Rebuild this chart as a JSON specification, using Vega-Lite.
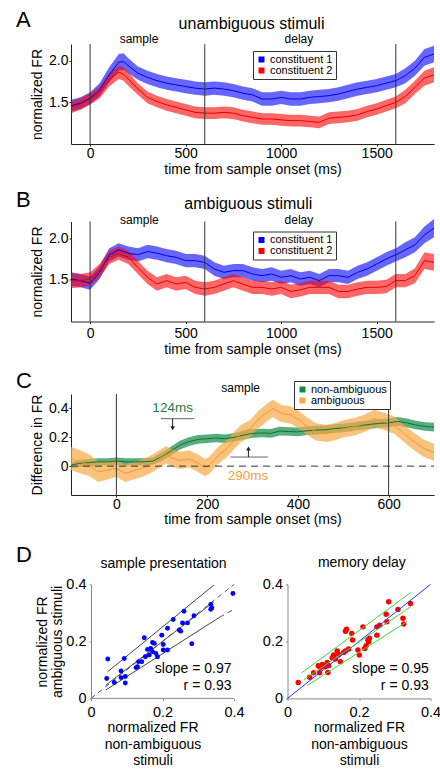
{
"$schema":"https://vega.github.io/schema/vega-lite/v6.json",
"padding":{"left":15,"top":8,"right":0,"bottom":0},
"config":{"font":"Liberation Sans","view":{"stroke":null},
 "axis":{"grid":false,"labelFlush":false,"labelFont":"Liberation Sans","titleFont":"Liberation Sans","titleFontWeight":"normal","labelColor":"#000","titleColor":"#000","domainColor":"#222","tickColor":"#222","tickSize":2,"labelFontSize":14,"titleFontSize":14,"labelOverlap":false},
 "legend":{"labelFont":"Liberation Sans","labelColor":"#000"},
 "text":{"font":"Liberation Sans","color":"#000"}},
"datasets":{
"A":[
{"t":-100,"s":"constituent 1","m":1.46,"e":0.07},{"t":-50,"s":"constituent 1","m":1.49,"e":0.07},{"t":0,"s":"constituent 1","m":1.55,"e":0.07},{"t":50,"s":"constituent 1","m":1.65,"e":0.08},{"t":100,"s":"constituent 1","m":1.83,"e":0.09},{"t":150,"s":"constituent 1","m":1.98,"e":0.1},{"t":175,"s":"constituent 1","m":1.99,"e":0.1},{"t":200,"s":"constituent 1","m":1.94,"e":0.09},{"t":250,"s":"constituent 1","m":1.85,"e":0.08},{"t":300,"s":"constituent 1","m":1.8,"e":0.08},{"t":350,"s":"constituent 1","m":1.76,"e":0.08},{"t":400,"s":"constituent 1","m":1.73,"e":0.08},{"t":450,"s":"constituent 1","m":1.71,"e":0.08},{"t":500,"s":"constituent 1","m":1.69,"e":0.08},{"t":550,"s":"constituent 1","m":1.67,"e":0.08},{"t":600,"s":"constituent 1","m":1.66,"e":0.08},{"t":650,"s":"constituent 1","m":1.67,"e":0.08},{"t":700,"s":"constituent 1","m":1.66,"e":0.08},{"t":750,"s":"constituent 1","m":1.64,"e":0.08},{"t":800,"s":"constituent 1","m":1.61,"e":0.08},{"t":850,"s":"constituent 1","m":1.59,"e":0.08},{"t":900,"s":"constituent 1","m":1.54,"e":0.08},{"t":950,"s":"constituent 1","m":1.54,"e":0.08},{"t":1000,"s":"constituent 1","m":1.56,"e":0.08},{"t":1050,"s":"constituent 1","m":1.54,"e":0.08},{"t":1100,"s":"constituent 1","m":1.54,"e":0.08},{"t":1150,"s":"constituent 1","m":1.56,"e":0.08},{"t":1200,"s":"constituent 1","m":1.57,"e":0.08},{"t":1250,"s":"constituent 1","m":1.58,"e":0.08},{"t":1300,"s":"constituent 1","m":1.6,"e":0.08},{"t":1350,"s":"constituent 1","m":1.63,"e":0.08},{"t":1400,"s":"constituent 1","m":1.66,"e":0.08},{"t":1450,"s":"constituent 1","m":1.68,"e":0.08},{"t":1500,"s":"constituent 1","m":1.7,"e":0.08},{"t":1550,"s":"constituent 1","m":1.73,"e":0.08},{"t":1600,"s":"constituent 1","m":1.76,"e":0.08},{"t":1650,"s":"constituent 1","m":1.82,"e":0.09},{"t":1700,"s":"constituent 1","m":1.91,"e":0.09},{"t":1750,"s":"constituent 1","m":2.04,"e":0.1},{"t":1800,"s":"constituent 1","m":2.08,"e":0.1},
{"t":-100,"s":"constituent 2","m":1.44,"e":0.07},{"t":-50,"s":"constituent 2","m":1.48,"e":0.07},{"t":0,"s":"constituent 2","m":1.54,"e":0.07},{"t":50,"s":"constituent 2","m":1.62,"e":0.07},{"t":100,"s":"constituent 2","m":1.77,"e":0.08},{"t":150,"s":"constituent 2","m":1.86,"e":0.08},{"t":175,"s":"constituent 2","m":1.84,"e":0.08},{"t":200,"s":"constituent 2","m":1.78,"e":0.08},{"t":250,"s":"constituent 2","m":1.66,"e":0.07},{"t":300,"s":"constituent 2","m":1.56,"e":0.07},{"t":350,"s":"constituent 2","m":1.51,"e":0.07},{"t":400,"s":"constituent 2","m":1.47,"e":0.07},{"t":450,"s":"constituent 2","m":1.44,"e":0.07},{"t":500,"s":"constituent 2","m":1.41,"e":0.07},{"t":550,"s":"constituent 2","m":1.38,"e":0.07},{"t":600,"s":"constituent 2","m":1.37,"e":0.07},{"t":650,"s":"constituent 2","m":1.37,"e":0.07},{"t":700,"s":"constituent 2","m":1.38,"e":0.07},{"t":750,"s":"constituent 2","m":1.37,"e":0.07},{"t":800,"s":"constituent 2","m":1.34,"e":0.07},{"t":850,"s":"constituent 2","m":1.32,"e":0.07},{"t":900,"s":"constituent 2","m":1.3,"e":0.07},{"t":950,"s":"constituent 2","m":1.3,"e":0.07},{"t":1000,"s":"constituent 2","m":1.29,"e":0.07},{"t":1050,"s":"constituent 2","m":1.28,"e":0.07},{"t":1100,"s":"constituent 2","m":1.28,"e":0.07},{"t":1150,"s":"constituent 2","m":1.27,"e":0.07},{"t":1200,"s":"constituent 2","m":1.26,"e":0.07},{"t":1250,"s":"constituent 2","m":1.31,"e":0.07},{"t":1300,"s":"constituent 2","m":1.32,"e":0.07},{"t":1350,"s":"constituent 2","m":1.33,"e":0.07},{"t":1400,"s":"constituent 2","m":1.35,"e":0.07},{"t":1450,"s":"constituent 2","m":1.39,"e":0.07},{"t":1500,"s":"constituent 2","m":1.42,"e":0.07},{"t":1550,"s":"constituent 2","m":1.46,"e":0.07},{"t":1600,"s":"constituent 2","m":1.5,"e":0.07},{"t":1650,"s":"constituent 2","m":1.57,"e":0.08},{"t":1700,"s":"constituent 2","m":1.68,"e":0.08},{"t":1750,"s":"constituent 2","m":1.79,"e":0.09},{"t":1800,"s":"constituent 2","m":1.83,"e":0.09}
],
"B":[
{"t":-100,"s":"constituent 1","m":1.51,"e":0.08},{"t":-50,"s":"constituent 1","m":1.49,"e":0.08},{"t":0,"s":"constituent 1","m":1.46,"e":0.08},{"t":50,"s":"constituent 1","m":1.59,"e":0.08},{"t":100,"s":"constituent 1","m":1.8,"e":0.08},{"t":150,"s":"constituent 1","m":1.86,"e":0.08},{"t":200,"s":"constituent 1","m":1.82,"e":0.08},{"t":250,"s":"constituent 1","m":1.8,"e":0.08},{"t":300,"s":"constituent 1","m":1.84,"e":0.08},{"t":350,"s":"constituent 1","m":1.82,"e":0.08},{"t":400,"s":"constituent 1","m":1.79,"e":0.08},{"t":450,"s":"constituent 1","m":1.77,"e":0.08},{"t":500,"s":"constituent 1","m":1.73,"e":0.08},{"t":550,"s":"constituent 1","m":1.73,"e":0.08},{"t":600,"s":"constituent 1","m":1.71,"e":0.08},{"t":650,"s":"constituent 1","m":1.63,"e":0.08},{"t":700,"s":"constituent 1","m":1.59,"e":0.08},{"t":750,"s":"constituent 1","m":1.61,"e":0.08},{"t":800,"s":"constituent 1","m":1.61,"e":0.08},{"t":850,"s":"constituent 1","m":1.57,"e":0.08},{"t":900,"s":"constituent 1","m":1.55,"e":0.08},{"t":950,"s":"constituent 1","m":1.57,"e":0.08},{"t":1000,"s":"constituent 1","m":1.53,"e":0.08},{"t":1050,"s":"constituent 1","m":1.55,"e":0.08},{"t":1100,"s":"constituent 1","m":1.51,"e":0.08},{"t":1150,"s":"constituent 1","m":1.53,"e":0.08},{"t":1200,"s":"constituent 1","m":1.49,"e":0.08},{"t":1250,"s":"constituent 1","m":1.55,"e":0.08},{"t":1300,"s":"constituent 1","m":1.55,"e":0.08},{"t":1350,"s":"constituent 1","m":1.53,"e":0.08},{"t":1400,"s":"constituent 1","m":1.59,"e":0.08},{"t":1450,"s":"constituent 1","m":1.63,"e":0.08},{"t":1500,"s":"constituent 1","m":1.69,"e":0.08},{"t":1550,"s":"constituent 1","m":1.75,"e":0.08},{"t":1600,"s":"constituent 1","m":1.8,"e":0.08},{"t":1650,"s":"constituent 1","m":1.86,"e":0.09},{"t":1700,"s":"constituent 1","m":1.92,"e":0.09},{"t":1750,"s":"constituent 1","m":2.04,"e":0.1},{"t":1800,"s":"constituent 1","m":2.12,"e":0.11},
{"t":-100,"s":"constituent 2","m":1.49,"e":0.09},{"t":-50,"s":"constituent 2","m":1.49,"e":0.08},{"t":0,"s":"constituent 2","m":1.51,"e":0.08},{"t":50,"s":"constituent 2","m":1.61,"e":0.08},{"t":100,"s":"constituent 2","m":1.77,"e":0.08},{"t":150,"s":"constituent 2","m":1.82,"e":0.08},{"t":200,"s":"constituent 2","m":1.77,"e":0.08},{"t":250,"s":"constituent 2","m":1.65,"e":0.08},{"t":300,"s":"constituent 2","m":1.53,"e":0.08},{"t":350,"s":"constituent 2","m":1.45,"e":0.08},{"t":400,"s":"constituent 2","m":1.49,"e":0.08},{"t":450,"s":"constituent 2","m":1.45,"e":0.08},{"t":500,"s":"constituent 2","m":1.47,"e":0.08},{"t":550,"s":"constituent 2","m":1.41,"e":0.08},{"t":600,"s":"constituent 2","m":1.39,"e":0.08},{"t":650,"s":"constituent 2","m":1.41,"e":0.08},{"t":700,"s":"constituent 2","m":1.45,"e":0.08},{"t":750,"s":"constituent 2","m":1.49,"e":0.08},{"t":800,"s":"constituent 2","m":1.45,"e":0.08},{"t":850,"s":"constituent 2","m":1.41,"e":0.08},{"t":900,"s":"constituent 2","m":1.41,"e":0.08},{"t":950,"s":"constituent 2","m":1.39,"e":0.08},{"t":1000,"s":"constituent 2","m":1.41,"e":0.08},{"t":1050,"s":"constituent 2","m":1.36,"e":0.08},{"t":1100,"s":"constituent 2","m":1.38,"e":0.08},{"t":1150,"s":"constituent 2","m":1.41,"e":0.08},{"t":1200,"s":"constituent 2","m":1.41,"e":0.08},{"t":1250,"s":"constituent 2","m":1.41,"e":0.08},{"t":1300,"s":"constituent 2","m":1.36,"e":0.08},{"t":1350,"s":"constituent 2","m":1.36,"e":0.08},{"t":1400,"s":"constituent 2","m":1.39,"e":0.08},{"t":1450,"s":"constituent 2","m":1.41,"e":0.08},{"t":1500,"s":"constituent 2","m":1.41,"e":0.08},{"t":1550,"s":"constituent 2","m":1.42,"e":0.08},{"t":1600,"s":"constituent 2","m":1.49,"e":0.08},{"t":1650,"s":"constituent 2","m":1.49,"e":0.08},{"t":1700,"s":"constituent 2","m":1.55,"e":0.09},{"t":1750,"s":"constituent 2","m":1.73,"e":0.1},{"t":1800,"s":"constituent 2","m":1.71,"e":0.1}
],
"C":[
{"t":-100,"s":"non-ambiguous","m":0.007,"e":0.02},{"t":-80,"s":"non-ambiguous","m":0.02,"e":0.025},{"t":-60,"s":"non-ambiguous","m":0.025,"e":0.025},{"t":-40,"s":"non-ambiguous","m":0.03,"e":0.025},{"t":-20,"s":"non-ambiguous","m":0.03,"e":0.025},{"t":0,"s":"non-ambiguous","m":0.035,"e":0.025},{"t":20,"s":"non-ambiguous","m":0.03,"e":0.025},{"t":40,"s":"non-ambiguous","m":0.03,"e":0.025},{"t":60,"s":"non-ambiguous","m":0.03,"e":0.025},{"t":80,"s":"non-ambiguous","m":0.035,"e":0.025},{"t":100,"s":"non-ambiguous","m":0.065,"e":0.03},{"t":120,"s":"non-ambiguous","m":0.104,"e":0.03},{"t":140,"s":"non-ambiguous","m":0.146,"e":0.03},{"t":160,"s":"non-ambiguous","m":0.17,"e":0.03},{"t":180,"s":"non-ambiguous","m":0.185,"e":0.03},{"t":200,"s":"non-ambiguous","m":0.19,"e":0.03},{"t":220,"s":"non-ambiguous","m":0.195,"e":0.03},{"t":240,"s":"non-ambiguous","m":0.19,"e":0.03},{"t":260,"s":"non-ambiguous","m":0.2,"e":0.03},{"t":280,"s":"non-ambiguous","m":0.215,"e":0.03},{"t":300,"s":"non-ambiguous","m":0.227,"e":0.03},{"t":320,"s":"non-ambiguous","m":0.23,"e":0.03},{"t":340,"s":"non-ambiguous","m":0.227,"e":0.03},{"t":360,"s":"non-ambiguous","m":0.243,"e":0.03},{"t":380,"s":"non-ambiguous","m":0.24,"e":0.03},{"t":400,"s":"non-ambiguous","m":0.238,"e":0.03},{"t":420,"s":"non-ambiguous","m":0.245,"e":0.03},{"t":440,"s":"non-ambiguous","m":0.25,"e":0.03},{"t":460,"s":"non-ambiguous","m":0.252,"e":0.03},{"t":480,"s":"non-ambiguous","m":0.26,"e":0.03},{"t":500,"s":"non-ambiguous","m":0.265,"e":0.03},{"t":520,"s":"non-ambiguous","m":0.273,"e":0.03},{"t":540,"s":"non-ambiguous","m":0.282,"e":0.03},{"t":560,"s":"non-ambiguous","m":0.29,"e":0.03},{"t":580,"s":"non-ambiguous","m":0.296,"e":0.03},{"t":600,"s":"non-ambiguous","m":0.3,"e":0.03},{"t":620,"s":"non-ambiguous","m":0.31,"e":0.03},{"t":640,"s":"non-ambiguous","m":0.3,"e":0.03},{"t":660,"s":"non-ambiguous","m":0.285,"e":0.03},{"t":680,"s":"non-ambiguous","m":0.275,"e":0.03},{"t":700,"s":"non-ambiguous","m":0.27,"e":0.03},
{"t":-100,"s":"ambiguous","m":0.053,"e":0.08},{"t":-80,"s":"ambiguous","m":0.03,"e":0.08},{"t":-60,"s":"ambiguous","m":0.007,"e":0.075},{"t":-40,"s":"ambiguous","m":-0.04,"e":0.07},{"t":-20,"s":"ambiguous","m":-0.028,"e":0.065},{"t":0,"s":"ambiguous","m":-0.016,"e":0.06},{"t":20,"s":"ambiguous","m":-0.05,"e":0.06},{"t":40,"s":"ambiguous","m":-0.03,"e":0.06},{"t":60,"s":"ambiguous","m":-0.01,"e":0.06},{"t":80,"s":"ambiguous","m":0.02,"e":0.06},{"t":100,"s":"ambiguous","m":0.06,"e":0.06},{"t":110,"s":"ambiguous","m":0.08,"e":0.06},{"t":120,"s":"ambiguous","m":0.058,"e":0.06},{"t":140,"s":"ambiguous","m":0.04,"e":0.06},{"t":160,"s":"ambiguous","m":0.05,"e":0.06},{"t":180,"s":"ambiguous","m":0.02,"e":0.06},{"t":195,"s":"ambiguous","m":-0.01,"e":0.06},{"t":205,"s":"ambiguous","m":0.007,"e":0.06},{"t":225,"s":"ambiguous","m":0.076,"e":0.06},{"t":245,"s":"ambiguous","m":0.127,"e":0.06},{"t":260,"s":"ambiguous","m":0.18,"e":0.06},{"t":275,"s":"ambiguous","m":0.227,"e":0.06},{"t":295,"s":"ambiguous","m":0.26,"e":0.06},{"t":312,"s":"ambiguous","m":0.32,"e":0.06},{"t":334,"s":"ambiguous","m":0.377,"e":0.06},{"t":345,"s":"ambiguous","m":0.4,"e":0.06},{"t":363,"s":"ambiguous","m":0.366,"e":0.06},{"t":385,"s":"ambiguous","m":0.354,"e":0.06},{"t":403,"s":"ambiguous","m":0.32,"e":0.06},{"t":422,"s":"ambiguous","m":0.273,"e":0.06},{"t":440,"s":"ambiguous","m":0.238,"e":0.06},{"t":462,"s":"ambiguous","m":0.227,"e":0.06},{"t":480,"s":"ambiguous","m":0.238,"e":0.06},{"t":502,"s":"ambiguous","m":0.26,"e":0.06},{"t":524,"s":"ambiguous","m":0.273,"e":0.06},{"t":546,"s":"ambiguous","m":0.296,"e":0.06},{"t":568,"s":"ambiguous","m":0.33,"e":0.06},{"t":590,"s":"ambiguous","m":0.31,"e":0.06},{"t":612,"s":"ambiguous","m":0.285,"e":0.06},{"t":634,"s":"ambiguous","m":0.227,"e":0.06},{"t":656,"s":"ambiguous","m":0.17,"e":0.06},{"t":678,"s":"ambiguous","m":0.123,"e":0.06},{"t":700,"s":"ambiguous","m":0.095,"e":0.06}
],
"DL":[
{"x":0.047,"y":0.138},{"x":0.044,"y":0.07},{"x":0.065,"y":0.056},{"x":0.084,"y":0.096},{"x":0.084,"y":0.073},{"x":0.096,"y":0.077},{"x":0.096,"y":0.054},{"x":0.093,"y":0.14},{"x":0.13,"y":0.111},{"x":0.133,"y":0.129},{"x":0.142,"y":0.129},{"x":0.152,"y":0.146},{"x":0.149,"y":0.213},{"x":0.158,"y":0.172},{"x":0.167,"y":0.175},{"x":0.172,"y":0.196},{"x":0.177,"y":0.193},{"x":0.172,"y":0.164},{"x":0.181,"y":0.158},{"x":0.186,"y":0.146},{"x":0.198,"y":0.222},{"x":0.202,"y":0.189},{"x":0.202,"y":0.17},{"x":0.214,"y":0.246},{"x":0.214,"y":0.17},{"x":0.23,"y":0.277},{"x":0.247,"y":0.24},{"x":0.251,"y":0.236},{"x":0.256,"y":0.265},{"x":0.26,"y":0.306},{"x":0.27,"y":0.265},{"x":0.288,"y":0.29},{"x":0.282,"y":0.192},{"x":0.335,"y":0.33},{"x":0.338,"y":0.318},{"x":0.335,"y":0.313},{"x":0.397,"y":0.368},{"x":0.126,"y":0.108},{"x":0.163,"y":0.152}
],
"DR":[
{"x":0.03,"y":0.056},{"x":0.062,"y":0.074},{"x":0.073,"y":0.09},{"x":0.086,"y":0.115},{"x":0.092,"y":0.108},{"x":0.097,"y":0.119},{"x":0.106,"y":0.111},{"x":0.111,"y":0.126},{"x":0.115,"y":0.115},{"x":0.113,"y":0.091},{"x":0.125,"y":0.143},{"x":0.129,"y":0.152},{"x":0.134,"y":0.138},{"x":0.139,"y":0.166},{"x":0.143,"y":0.154},{"x":0.148,"y":0.129},{"x":0.157,"y":0.161},{"x":0.162,"y":0.166},{"x":0.165,"y":0.243},{"x":0.162,"y":0.236},{"x":0.171,"y":0.173},{"x":0.18,"y":0.228},{"x":0.182,"y":0.205},{"x":0.197,"y":0.17},{"x":0.201,"y":0.152},{"x":0.211,"y":0.251},{"x":0.216,"y":0.175},{"x":0.22,"y":0.185},{"x":0.225,"y":0.205},{"x":0.229,"y":0.211},{"x":0.227,"y":0.199},{"x":0.25,"y":0.222},{"x":0.25,"y":0.251},{"x":0.258,"y":0.257},{"x":0.276,"y":0.295},{"x":0.278,"y":0.269},{"x":0.283,"y":0.339},{"x":0.309,"y":0.312},{"x":0.323,"y":0.281},{"x":0.325,"y":0.261},{"x":0.344,"y":0.333},{"x":0.09,"y":0.09}
]
},
"spacing":16.4,
"vconcat":[
{"spacing":12.5,
 "resolve":{"scale":{"x":"independent","y":"independent","color":"independent","stroke":"independent"},"legend":{"color":"independent","stroke":"independent"}},
 "vconcat":[
 {"width":363,"height":100,
  "encoding":{"x":{"field":"t","type":"quantitative","scale":{"domain":[-100,1800],"nice":false,"zero":false},"axis":{"title":"time from sample onset (ms)","values":[0,500,1000,1500],"format":"d","labelPadding":0,"titlePadding":2}}},
  "layer":[
   {"data":{"name":"A"},"mark":{"type":"errorband","band":{"opacity":0.6}},
    "encoding":{"y":{"field":"m","type":"quantitative","scale":{"domain":[1,2.2],"nice":false,"zero":false},"axis":{"title":"normalized FR","values":[1.5,2],"format":".1f","labelPadding":1,"titlePadding":4}},"yError":{"field":"e"},
     "color":{"field":"s","type":"nominal","scale":{"domain":["constituent 1","constituent 2"],"range":["#0000ff","#ff0000"]},"legend":{"orient":"none","legendX":182,"legendY":7,"title":null,"symbolType":"square","symbolSize":36,"symbolOpacity":1,"symbolStrokeWidth":0,"labelFontSize":11,"labelOffset":3,"padding":3,"rowPadding":-1,"strokeColor":"#333","fillColor":"#fff"}}}},
   {"data":{"name":"A"},"mark":{"type":"line","strokeWidth":1},
    "encoding":{"y":{"field":"m","type":"quantitative","scale":{"domain":[1,2.2],"nice":false,"zero":false}},"stroke":{"field":"s","type":"nominal","scale":{"domain":["constituent 1","constituent 2"],"range":["#0000e0","#e00000"]},"legend":null}}},
   {"data":{"values":[{"t":0},{"t":600},{"t":1600}]},"mark":{"type":"rule","color":"#333","strokeWidth":1},"encoding":{}},
   {"data":{"values":[{"t":-388,"v":2.408,"label":"A"}]},"mark":{"type":"text","align":"left","baseline":"alphabetic","fontSize":22},"encoding":{"y":{"field":"v","type":"quantitative"},"text":{"field":"label"}}},
   {"data":{"values":[{"t":845,"v":2.376,"label":"unambiguous stimuli"}]},"mark":{"type":"text","align":"center","baseline":"alphabetic","fontSize":16},"encoding":{"y":{"field":"v","type":"quantitative"},"text":{"field":"label"}}},
   {"data":{"values":[{"t":256,"v":2.208,"label":"sample"},{"t":1093,"v":2.208,"label":"delay"}]},"mark":{"type":"text","align":"center","baseline":"alphabetic","fontSize":12},"encoding":{"y":{"field":"v","type":"quantitative"},"text":{"field":"label"}}}
  ]},
 {"width":363,"height":100,
  "encoding":{"x":{"field":"t","type":"quantitative","scale":{"domain":[-100,1800],"nice":false,"zero":false},"axis":{"title":"time from sample onset (ms)","values":[0,500,1000,1500],"format":"d","labelPadding":3,"titlePadding":2}}},
  "layer":[
   {"data":{"name":"B"},"mark":{"type":"errorband","band":{"opacity":0.6}},
    "encoding":{"y":{"field":"m","type":"quantitative","scale":{"domain":[1,2.2],"nice":false,"zero":false},"axis":{"title":"normalized FR","values":[1.5,2],"format":".1f","labelPadding":1,"titlePadding":4}},"yError":{"field":"e"},
     "color":{"field":"s","type":"nominal","scale":{"domain":["constituent 1","constituent 2"],"range":["#0000ff","#ff0000"]},"legend":{"orient":"none","legendX":182,"legendY":10,"title":null,"symbolType":"square","symbolSize":36,"symbolOpacity":1,"symbolStrokeWidth":0,"labelFontSize":11,"labelOffset":3,"padding":3,"rowPadding":-1,"strokeColor":"#333","fillColor":"#fff"}}}},
   {"data":{"name":"B"},"mark":{"type":"line","strokeWidth":1},
    "encoding":{"y":{"field":"m","type":"quantitative","scale":{"domain":[1,2.2],"nice":false,"zero":false}},"stroke":{"field":"s","type":"nominal","scale":{"domain":["constituent 1","constituent 2"],"range":["#0000e0","#e00000"]},"legend":null}}},
   {"data":{"values":[{"t":0},{"t":600},{"t":1600}]},"mark":{"type":"rule","color":"#333","strokeWidth":1},"encoding":{}},
   {"data":{"values":[{"t":-388,"v":2.38,"label":"B"}]},"mark":{"type":"text","align":"left","baseline":"alphabetic","fontSize":22},"encoding":{"y":{"field":"v","type":"quantitative"},"text":{"field":"label"}}},
   {"data":{"values":[{"t":828,"v":2.352,"label":"ambiguous stimuli"}]},"mark":{"type":"text","align":"center","baseline":"alphabetic","fontSize":16},"encoding":{"y":{"field":"v","type":"quantitative"},"text":{"field":"label"}}},
   {"data":{"values":[{"t":258,"v":2.17,"label":"sample"},{"t":1093,"v":2.17,"label":"delay"}]},"mark":{"type":"text","align":"center","baseline":"alphabetic","fontSize":12},"encoding":{"y":{"field":"v","type":"quantitative"},"text":{"field":"label"}}}
  ]},
 {"width":363,"height":101,
  "encoding":{"x":{"field":"t","type":"quantitative","scale":{"domain":[-100,700],"nice":false,"zero":false},"axis":{"title":"time from sample onset (ms)","values":[0,200,400,600],"format":"d","labelPadding":0.3,"titlePadding":0.8}}},
  "layer":[
   {"data":{"name":"C"},"mark":{"type":"errorband","band":{"opacity":0.7}},
    "encoding":{"y":{"field":"m","type":"quantitative","scale":{"domain":[-0.2,0.5],"nice":false,"zero":false},"axis":{"title":"Difference in FR","values":[0,0.2,0.4],"format":"~g","labelPadding":1,"titlePadding":4}},"yError":{"field":"e"},
     "color":{"field":"s","type":"nominal","scale":{"domain":["non-ambiguous","ambiguous"],"range":["#118a45","#f7a947"]},"legend":{"orient":"none","legendX":223,"legendY":-13,"title":null,"symbolType":"square","symbolSize":36,"symbolOpacity":1,"symbolStrokeWidth":0,"labelFontSize":11,"labelOffset":3,"padding":3,"rowPadding":-1,"strokeColor":"#333","fillColor":"#fff"}}}},
   {"data":{"name":"C"},"mark":{"type":"line","strokeWidth":1},
    "encoding":{"y":{"field":"m","type":"quantitative","scale":{"domain":[-0.2,0.5],"nice":false,"zero":false}},"stroke":{"field":"s","type":"nominal","scale":{"domain":["non-ambiguous","ambiguous"],"range":["#13703c","#f39a2a"]},"legend":null}}},
   {"data":{"values":[{"t":0},{"t":600}]},"mark":{"type":"rule","color":"#333","strokeWidth":1},"encoding":{}},
   {"data":{"values":[{"t":-100,"t2":700,"v":0}]},"mark":{"type":"rule","color":"#333","strokeWidth":1,"strokeDash":[7,5]},"encoding":{"x2":{"field":"t2"},"y":{"field":"v","type":"quantitative"}}},
   {"data":{"values":[{"t":98,"t2":172,"v":0.329},{"t":251,"t2":334,"v":0.063}]},"mark":{"type":"rule","color":"#666","strokeWidth":1},"encoding":{"x2":{"field":"t2"},"y":{"field":"v","type":"quantitative"}}},
   {"data":{"values":[{"t":124,"v":0.329,"v2":0.258},{"t":291,"v":0.063,"v2":0.125}]},"mark":{"type":"rule","color":"#222","strokeWidth":1},"encoding":{"y":{"field":"v","type":"quantitative"},"y2":{"field":"v2"}}},
   {"data":{"values":[{"t":124,"v":0.262}]},"mark":{"type":"point","shape":"triangle-down","filled":true,"size":22,"color":"#222","opacity":1},"encoding":{"y":{"field":"v","type":"quantitative"}}},
   {"data":{"values":[{"t":291,"v":0.122}]},"mark":{"type":"point","shape":"triangle-up","filled":true,"size":22,"color":"#222","opacity":1},"encoding":{"y":{"field":"v","type":"quantitative"}}},
   {"data":{"values":[{"t":-221,"v":0.542,"label":"C"}]},"mark":{"type":"text","align":"left","baseline":"alphabetic","fontSize":22},"encoding":{"y":{"field":"v","type":"quantitative"},"text":{"field":"label"}}},
   {"data":{"values":[{"t":274,"v":0.514,"label":"sample"}]},"mark":{"type":"text","align":"center","baseline":"alphabetic","fontSize":12},"encoding":{"y":{"field":"v","type":"quantitative"},"text":{"field":"label"}}},
   {"data":{"values":[{"t":124,"v":0.375,"label":"124ms"}]},"mark":{"type":"text","align":"center","baseline":"alphabetic","fontSize":13.5,"color":"#1e8046"},"encoding":{"y":{"field":"v","type":"quantitative"},"text":{"field":"label"}}},
   {"data":{"values":[{"t":290,"v":-0.095,"label":"290ms"}]},"mark":{"type":"text","align":"center","baseline":"alphabetic","fontSize":13.5,"color":"#f5a03c"},"encoding":{"y":{"field":"v","type":"quantitative"},"text":{"field":"label"}}}
  ]}
 ]},
{"hconcat":[
 {"width":163,"height":114,
  "encoding":{"x":{"field":"x","type":"quantitative","scale":{"domain":[-0.056,0.4],"nice":false,"zero":false},"axis":{"title":["normalized FR","non-ambiguous","stimuli"],"values":[0,0.2,0.4],"format":"~g","domain":false,"labelFontSize":14.5,"labelPadding":5,"titlePadding":2,"titleLineHeight":16.5,"tickColor":"#888"}},
   "y":{"field":"y","type":"quantitative","scale":{"domain":[0,0.4],"nice":false,"zero":false},"axis":{"title":["normalized FR","ambiguous stimuli"],"offset":-20,"values":[0,0.2,0.4],"format":"~g","labelFontSize":14.5,"labelPadding":3,"titlePadding":1.5,"titleLineHeight":15,"domainColor":"#888","tickColor":"#888"}}},
  "layer":[
   {"data":{"values":[{"x":0,"y":0,"x2":0.4}]},"mark":{"type":"rule","color":"#888","strokeWidth":1},"encoding":{"x2":{"field":"x2"}}},
   {"data":{"values":[{"x":0.047,"y":0.094,"x2":0.344,"y2":0.398},{"x":0.042,"y":0.047,"x2":0.344,"y2":0.339},{"x":0.042,"y":0.03,"x2":0.36,"y2":0.285}]},"mark":{"type":"rule","color":"#444","strokeWidth":1},"encoding":{"x2":{"field":"x2"},"y2":{"field":"y2"}}},
   {"data":{"values":[{"x":0,"y":0,"x2":0.4,"y2":0.4},{"x":0.36,"y":0.285,"x2":0.4,"y2":0.313}]},"mark":{"type":"rule","color":"#555","strokeWidth":1,"strokeDash":[5,4]},"encoding":{"x2":{"field":"x2"},"y2":{"field":"y2"}}},
   {"data":{"name":"DL"},"mark":{"type":"point","filled":true,"size":24,"color":"#0000ff","opacity":1}},
   {"data":{"values":[{"x":-0.2098,"y":0.48,"label":"D"}]},"mark":{"type":"text","align":"left","baseline":"alphabetic","fontSize":22},"encoding":{"text":{"field":"label"}}},
   {"data":{"values":[{"x":0.203,"y":0.4586,"label":"sample presentation"}]},"mark":{"type":"text","align":"center","baseline":"alphabetic","fontSize":14},"encoding":{"text":{"field":"label"}}},
   {"data":{"values":[{"x":0.393,"y":0.088,"label":"slope = 0.97"},{"x":0.393,"y":0.029,"label":"r = 0.93"}]},"mark":{"type":"text","align":"right","baseline":"alphabetic","fontSize":14},"encoding":{"text":{"field":"label"}}}
  ]},
 {"width":143,"height":114,
  "encoding":{"x":{"field":"x","type":"quantitative","scale":{"domain":[0,0.4],"nice":false,"zero":false},"axis":{"title":["normalized FR","non-ambiguous","stimuli"],"values":[0,0.2,0.4],"format":"~g","labelFontSize":14.5,"labelPadding":5,"titlePadding":2,"titleLineHeight":16.5,"domainColor":"#888","tickColor":"#888"}},
   "y":{"field":"y","type":"quantitative","scale":{"domain":[0,0.4],"nice":false,"zero":false},"axis":{"title":null,"values":[0,0.2,0.4],"format":"~g","labelFontSize":14.5,"labelPadding":3,"domainColor":"#888","tickColor":"#888"}}},
  "layer":[
   {"data":{"name":"DR"},"mark":{"type":"point","filled":true,"size":30,"color":"#ff0000","opacity":1}},
   {"data":{"values":[{"x":0,"y":0,"x2":0.4,"y2":0.4}]},"mark":{"type":"rule","color":"#3030ff","strokeWidth":1},"encoding":{"x2":{"field":"x2"},"y2":{"field":"y2"}}},
   {"data":{"values":[{"x":0.04,"y":0.09,"x2":0.345,"y2":0.372},{"x":0.045,"y":0.065,"x2":0.345,"y2":0.322},{"x":0.055,"y":0.045,"x2":0.335,"y2":0.27}]},"mark":{"type":"rule","color":"#3ddc3d","strokeWidth":1},"encoding":{"x2":{"field":"x2"},"y2":{"field":"y2"}}},
   {"data":{"values":[{"x":0.208,"y":0.4596,"label":"memory delay"}]},"mark":{"type":"text","align":"center","baseline":"alphabetic","fontSize":14},"encoding":{"text":{"field":"label"}}},
   {"data":{"values":[{"x":0.395,"y":0.088,"label":"slope = 0.95"},{"x":0.395,"y":0.029,"label":"r = 0.93"}]},"mark":{"type":"text","align":"right","baseline":"alphabetic","fontSize":14},"encoding":{"text":{"field":"label"}}}
  ]}
 ],
 "spacing":53.5,"bounds":"flush",
 "resolve":{"scale":{"x":"independent","y":"independent","color":"independent","stroke":"independent"},"legend":{"color":"independent","stroke":"independent"}}}
],
"resolve":{"scale":{"x":"independent","y":"independent","color":"independent","stroke":"independent"},"legend":{"color":"independent","stroke":"independent"}}
}
